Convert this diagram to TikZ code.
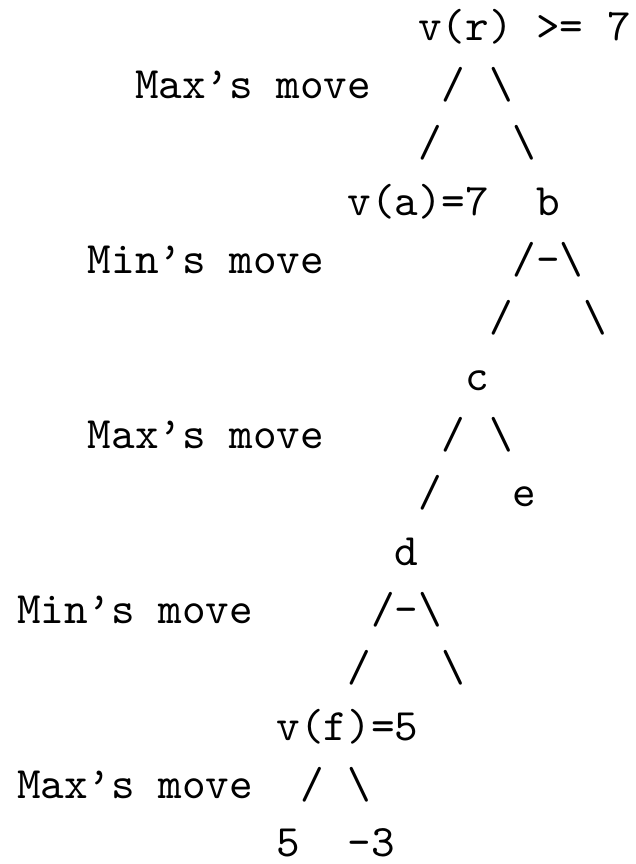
\documentclass[tikz,border=0pt]{standalone}
\newcommand\bsl{\char92}
\newcommand\apo{\textquoteright}
\tikzset{asc/.style={anchor=base west, inner sep=0pt, outer sep=0pt, font=\ttfamily}}
\begin{document}
\begin{tikzpicture}[x=5.25pt, y=-12.98pt]
\useasboundingbox (0pt,0pt) rectangle (141.3pt,-192.2pt);
\begin{scope}[shift={(3.8pt,-8.9pt)}]
% row 0
\node[asc] (root) at (17,0) {v(r)};
\node[asc] (rootval) at (22,0) {>= 7};
% row 1
\node[asc] (lab1) at (5,1) {Max\apo s move};
\node[asc] (r1l) at (18,1) {/};
\node[asc] (r1r) at (20,1) {\bsl};
% row 2
\node[asc] (r2l) at (17,2) {/};
\node[asc] (r2r) at (21,2) {\bsl};
% row 3
\node[asc] (a) at (14,3) {v(a)=7};
\node[asc] (b) at (22,3) {b};
% row 4
\node[asc] (lab2) at (3,4) {Min\apo s move};
\node[asc] (b1) at (21,4) {/-\bsl};
% row 5
\node[asc] (b2l) at (20,5) {/};
\node[asc] (b2r) at (24,5) {\bsl};
% row 6
\node[asc] (c) at (19,6) {c};
% row 7
\node[asc] (lab3) at (3,7) {Max\apo s move};
\node[asc] (c1l) at (18,7) {/};
\node[asc] (c1r) at (20,7) {\bsl};
% row 8
\node[asc] (c2l) at (17,8) {/};
\node[asc] (e) at (21,8) {e};
% row 9
\node[asc] (d) at (16,9) {d};
% row 10
\node[asc] (lab4) at (0,10) {Min\apo s move};
\node[asc] (d1) at (15,10) {/-\bsl};
% row 11
\node[asc] (d2l) at (14,11) {/};
\node[asc] (d2r) at (18,11) {\bsl};
% row 12
\node[asc] (f) at (11,12) {v(f)=5};
% row 13
\node[asc] (lab5) at (0,13) {Max\apo s move};
\node[asc] (f1l) at (12,13) {/};
\node[asc] (f1r) at (14,13) {\bsl};
% row 14
\node[asc] (leaf1) at (11,14) {5};
\node[asc] (leaf2) at (14,14) {-3};
\end{scope}
\end{tikzpicture}
\end{document}
